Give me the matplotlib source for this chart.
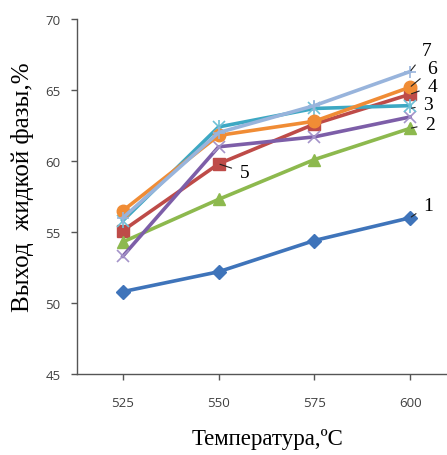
import matplotlib
matplotlib.use("Agg")
import matplotlib.pyplot as plt

temps = ["525", "550", "575", "600"]
s_blue = [50.8, 52.2, 54.4, 56.0]
s_red = [55.1, 59.8, 62.6, 64.7]
s_green = [54.3, 57.3, 60.1, 62.3]
s_purple = [53.3, 61.0, 61.7, 63.1]
s_cyan = [55.8, 62.4, 63.7, 63.9]
s_orange = [56.5, 61.8, 62.8, 65.2]
s_lblue = [56.0, 62.0, 63.9, 66.3]
yticks = [45, 50, 55, 60, 65, 70]

fig = plt.figure(figsize=(4.47, 4.56), dpi=100)
ax = fig.add_axes([77/447, 1-375/456, 1-77/447, (375-20)/456])
x = list(range(len(temps)))
lw = 2.6
ax.plot(x, s_blue, color="#3F74BA", lw=lw, marker="D", ms=7, zorder=3)
ax.plot(x, s_red, color="#BE4B48", lw=lw, marker="s", ms=8, zorder=3)
ax.plot(x, s_green, color="#8DB94E", lw=lw, marker="^", ms=8, zorder=3)
ax.plot(x, s_purple, color="#7D5EA8", lw=lw, zorder=3)
ax.plot(x, s_purple, ls="none", marker="x", ms=9, mew=1.2, color="#A493C9", zorder=3)
ax.plot(x, s_cyan, color="#3DA8C3", lw=lw, zorder=3)
ax.plot(x, s_cyan, ls="none", marker="x", ms=9, mew=1.2, color="#6FC0D6", zorder=3)
ax.plot(x, s_cyan, ls="none", marker="|", ms=10, mew=1.2, color="#6FC0D6", zorder=3)
ax.plot(x, s_orange, color="#F08C35", lw=lw, marker="o", ms=9, zorder=3)
ax.plot(x, s_lblue, color="#98B4DC", lw=lw, zorder=3)
ax.plot(x, s_lblue, ls="none", marker="+", ms=9, mew=1.2, color="#98B4DC", zorder=3)

ax.set_xlim(-46/96, 3 + 37/96)
ax.set_ylim(45, 70)
ax.set_xticks(x)
ax.set_xticklabels(temps)
ax.set_yticks(yticks)
for sp in ["top", "right"]:
    ax.spines[sp].set_visible(False)
for sp in ["left", "bottom"]:
    ax.spines[sp].set_color("#555555")
    ax.spines[sp].set_linewidth(1.0)
ax.tick_params(axis="x", direction="out", length=4, width=1, color="#555555",
               pad=12, labelsize=9.5, labelcolor="#404040")
ax.tick_params(axis="y", direction="out", length=4, width=1, color="#555555",
               pad=8, labelsize=9.5, labelcolor="#404040")
for lab in ax.get_xticklabels() + ax.get_yticklabels():
    lab.set_fontfamily("Open Sans")

serif = "Liberation Serif"
fig.text(23/447, 1-187/456, "Выход  жидкой фазы,%", rotation=90, ha="center", va="center",
         fontsize=18, family=serif)
fig.text(267/447, 1-440/456, "Температура,ºC", ha="center", va="center",
         fontsize=16.5, family=serif)

ann = [("7", 3.0, 66.3, 3.17, 67.75),
       ("6", 3.0, 65.2, 3.23, 66.5),
       ("4", 3.0, 64.7, 3.23, 65.25),
       ("3", 3.0, 63.7, 3.19, 63.95),
       ("2", 3.0, 62.3, 3.21, 62.6),
       ("1", 3.0, 56.0, 3.19, 56.9),
       ("5", 1.0, 59.8, 1.27, 59.2)]
for t, xp, yp, xt, yt in ann:
    ax.annotate(t, xy=(xp, yp), xytext=(xt, yt), fontsize=14, family=serif,
                ha="center", va="center", annotation_clip=False, zorder=6,
                arrowprops=dict(arrowstyle="-", color="#222222", lw=0.8,
                                shrinkA=4, shrinkB=1))

fig.savefig("out.png", dpi=100)
